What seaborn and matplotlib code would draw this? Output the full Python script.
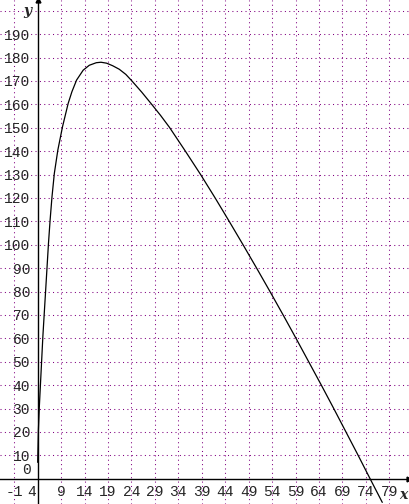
import numpy as np
import pandas as pd
import matplotlib
matplotlib.use("Agg")
import matplotlib.pyplot as plt
import seaborn as sns

# points
x_vals = [4.0, 4.15, 4.35, 4.6, 4.85, 5.1, 5.4, 5.7, 6.0, 6.3, 6.65, 7.05, 7.55,
          8.3, 9.3, 10.5, 11.3, 12.3, 13.7, 15.0, 16.5, 17.5, 18.7, 20.0, 21.4,
          22.8, 24.1, 26.2, 28.2, 30.2, 32.1, 35.5, 38.75, 41.85, 44.85, 47.8, 50.7, 53.55,
          56.35, 59.1, 61.8, 64.5, 67.15, 69.75, 72.35, 74.9, 77.5]
y_vals = [7.0, 20.8, 30.8, 40.8, 50.7, 60.7, 70.7, 80.6, 90.6, 100.6, 110.6, 120.5, 130.5,
          140.5, 150.5, 160.4, 165.4, 170.4, 174.6, 176.7, 177.8, 178.0, 177.6, 176.5, 175.0,
          172.8, 170.0, 165.2, 160.3, 155.3, 150.2, 140.0, 130.0, 120.0, 110.0, 100.0, 90.0, 80.0,
          70.0, 60.0, 50.0, 40.0, 30.0, 20.0, 10.0, 0.0, -10.1]

x_ticks = list(range(-1, 80, 5))
y_ticks = list(range(10, 201, 10))
x_tick_labels = [str(t) for t in x_ticks]
y_tick_labels = [str(t) for t in y_ticks if t < 200]

df = pd.DataFrame({"x": x_vals, "y": y_vals})

sns.set_style("white")
tick_font = "Liberation Mono"
lab_font = "DejaVu Serif"
grid_col = "#800080"

fig = plt.figure(figsize=(4.09, 5.04), dpi=100)
ax = fig.add_axes([0, 0, 1, 1])
ax.set_xlim(-4.04, 83.2)
ax.set_ylim(-10.8, 204.6)

# dotted grid
for t in x_ticks:
    if t != 4:
        ax.axvline(t, color=grid_col, lw=0.75, ls=(0, (1, 3.2)), zorder=0)
for t in y_ticks:
    ax.axhline(t, color=grid_col, lw=0.75, ls=(0, (1, 3.2)), zorder=0)

sns.lineplot(data=df, x="x", y="y", color="black", lw=0.9, ax=ax, sort=False)

# axes through (4, 0)
for s in ["top", "right"]:
    ax.spines[s].set_visible(False)
ax.spines["left"].set_position(("data", 4))
ax.spines["bottom"].set_position(("data", 0))
for s in ["left", "bottom"]:
    ax.spines[s].set_linewidth(1.0)
    ax.spines[s].set_color("black")
ax.plot(1, 0, ">", color="black", ms=3.5, transform=ax.get_yaxis_transform(), clip_on=False)
ax.plot(4, 1, "^", color="black", ms=3.5, transform=ax.get_xaxis_transform(), clip_on=False)

ax.set_xticks(x_ticks)
ax.set_xticklabels(["" if t == 4 else lab for t, lab in zip(x_ticks, x_tick_labels)])
ax.set_yticks(y_ticks)
ax.set_yticklabels(y_tick_labels + [""])
ax.tick_params(axis="x", direction="inout", length=6, width=0.8, pad=1.5,
               labelsize=10.5)
ax.tick_params(axis="y", direction="inout", length=8, width=0.8, pad=1.5,
               labelsize=10.5)
for lab in ax.get_xticklabels() + ax.get_yticklabels():
    lab.set_fontfamily(tick_font)

# labels moved off the axes
ax.text(31.7 / 409, 1 - 492.5 / 504, "4", transform=fig.transFigure, ha="center",
        va="center", fontsize=10.5, family=tick_font)
ax.text(30.7 / 409, 1 - 470 / 504, "0", transform=fig.transFigure, ha="right",
        va="center", fontsize=10.5, family=tick_font)

ax.set_xlabel("")
ax.set_ylabel("")
ax.text(403 / 409, 1 - 495 / 504, "x", transform=fig.transFigure, ha="center",
        va="center", fontsize=10, family=lab_font, style="italic", weight="bold")
ax.text(27.5 / 409, 1 - 11 / 504, "y", transform=fig.transFigure, ha="center",
        va="center", fontsize=10, family=lab_font, style="italic", weight="bold")

fig.savefig("out.png", dpi=100)
